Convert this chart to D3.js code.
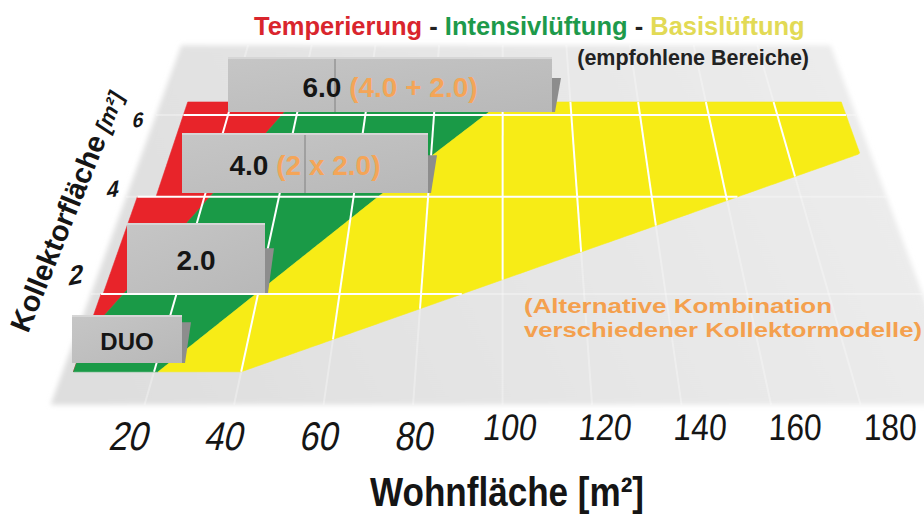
<!DOCTYPE html>
<html lang="de">
<head>
<meta charset="utf-8">
<script src="https://cdnjs.cloudflare.com/ajax/libs/d3/7.8.5/d3.min.js"></script>
<style>
  html, body { margin: 0; padding: 0; background: #fff; }
  svg { display: block; font-family: "Liberation Sans", Arial, sans-serif; }
</style>
</head>
<body>
<svg id="chart" width="924" height="517"></svg>
<script>
// Kollektorfläche bands (m²), bottom -> top
const rowLabels = ["DUO", "2.0", "4.0", "6.0"];
const rowNotes = ["", "", "(2 x 2.0)", "(4.0 + 2.0)"];
const rowFrom = [0.63, 2, 4, 6];
const rowTo = [2, 4, 6, 6.35];
const rowStartW = [1.5, 2, 7, 7];     // Wohnfläche where each band starts
const rowEndW = [200, 200, 200, 200];

// upper limits of each range (Wohnfläche m²) read at Kollektorfläche 2 / 4 / 6 m²
const limitY = [2, 4, 6];
const temperierungMax = [7, 21.5, 35.7];
const intensivMax = [39.5, 66.6, 94.9];
const basisY = [2, 4];
const basisMax = [90, 163];

const xTicks = [20, 40, 60, 80, 100, 120, 140, 160, 180];
const yTicks = [2, 4, 6];

const colors = { red: "#e8242a", green: "#1a9a47", yellow: "#f7ec16" };

const svg = d3.select("#chart");
const defs = svg.append("defs");

// ---- perspective floor ----
const H = -840;   // horizon
const VX = 503;   // vanishing x
const xRef = d3.scaleLinear().domain([20, 200]).range([228, 846]); // widths at Y = 6
const depth = d3.scaleLinear().domain([2, 6]).range([1 / (294 - H), 1 / (115 - H)]);
const yOf = v => H + 1 / depth(v);
const yRef = yOf(6);
const xAt = (w, y) => VX + (xRef(w) - VX) * (y - H) / (yRef - H);
const P = (w, v) => { const y = yOf(v); return [xAt(w, y), y]; };
const line = d3.line();

const tempScale = d3.scaleLinear().domain(limitY).range(temperierungMax);
const intScale = d3.scaleLinear().domain(limitY).range(intensivMax);
const basisScale = d3.scaleLinear().domain(basisY).range(basisMax);

// floor
const grad = defs.append("linearGradient").attr("id", "floorGrad")
  .attr("gradientUnits", "userSpaceOnUse")
  .attr("x1", 100).attr("y1", 400).attr("x2", 850).attr("y2", 50);
grad.append("stop").attr("offset", 0).attr("stop-color", "#dedede");
grad.append("stop").attr("offset", 1).attr("stop-color", "#ececec");
defs.append("filter").attr("id", "soft").attr("x", -0.05).attr("y", -0.05).attr("width", 1.1).attr("height", 1.1)
  .append("feGaussianBlur").attr("stdDeviation", 2.5);

const floorW = [-1, 203], floorY = [0.1, 8];
svg.append("path")
  .attr("d", line([P(floorW[0], floorY[0]), P(floorW[1], floorY[0]), P(floorW[1], floorY[1]), P(floorW[0], floorY[1])]) + "Z")
  .attr("fill", "url(#floorGrad)").attr("filter", "url(#soft)");

// faint floor grid
const gFloor = svg.append("g").attr("stroke", "#fff").attr("stroke-opacity", 0.3).attr("stroke-width", 2);
xTicks.forEach(w => gFloor.append("path").attr("d", line([P(w, floorY[0]), P(w, floorY[1])])));
yTicks.forEach(v => gFloor.append("path").attr("d", line([P(floorW[0], v), P(floorW[1], v)])));

// ---- coloured ranges per band ----
function bandPath(lo, hi, v0, v1) {
  const n = 60;
  const vs = d3.range(n + 1).map(i => v0 + (v1 - v0) * i / n);
  const up = vs.map(v => P(hi(v), v));
  const down = vs.slice().reverse().map(v => P(lo(v), v));
  return line(up.concat(down)) + "Z";
}

const gBands = svg.append("g");
rowLabels.forEach((lab, i) => {
  const s = rowStartW[i], e = rowEndW[i];
  const clampW = w => Math.max(s, Math.min(e, w));
  const b0 = () => s;
  const b1 = v => clampW(tempScale(v));
  const b2 = v => clampW(intScale(v));
  const b3 = v => clampW(basisScale(v));
  [[b0, b1, colors.red], [b1, b2, colors.green], [b2, b3, colors.yellow]].forEach(([lo, hi, c]) => {
    gBands.append("path").attr("d", bandPath(lo, hi, rowFrom[i], rowTo[i]))
      .attr("fill", c).attr("stroke", c).attr("stroke-width", 0.6);
  });
});

// white grid on the coloured area
const gGrid = svg.append("g").attr("stroke", "#fff").attr("stroke-width", 2).attr("fill", "none");
rowLabels.forEach((lab, i) => {
  xTicks.forEach(w => {
    if (w < rowStartW[i]) return;
    const vStart = Math.max(rowFrom[i], basisScale.invert(w));
    if (vStart >= rowTo[i]) return;
    gGrid.append("path").attr("d", line([P(w, vStart), P(w, rowTo[i])]));
  });
});
yTicks.forEach(v => {
  const i = rowFrom.indexOf(v);
  const left = Math.min(rowStartW[i], rowStartW[i - 1] ?? rowStartW[i]);
  gGrid.append("path").attr("d", line([P(left, v), P(Math.min(200, basisScale(v)), v)]));
});

// ---- label boxes (pixel layout) ----
const boxLayout = [
  { x: 72, y: 315, w: 110, h: 48, fs: 24, div: null, flap: 0.15 },
  { x: 127, y: 223, w: 138, h: 70, fs: 28, div: null, flap: 0.36 },
  { x: 182, y: 133, w: 246, h: 60, fs: 28, div: 123, flap: 0.37 },
  { x: 228, y: 57, w: 324, h: 55, fs: 28, div: 107, flap: 0.38 }
];
const boxGrad = defs.append("linearGradient").attr("id", "boxGrad").attr("x1", 0).attr("y1", 0).attr("x2", 1).attr("y2", 1);
boxGrad.append("stop").attr("offset", 0).attr("stop-color", "#c6c6c6");
boxGrad.append("stop").attr("offset", 1).attr("stop-color", "#b8b8b8");

const gBox = svg.append("g");
rowLabels.forEach((lab, i) => {
  const b = boxLayout[i];
  const g = gBox.append("g");
  g.append("path")
    .attr("d", line([[b.x + b.w, b.y + b.h * b.flap], [b.x + b.w + 9, b.y + b.h * b.flap],
      [b.x + b.w + 3, b.y + b.h], [b.x + b.w, b.y + b.h]]) + "Z")
    .attr("fill", "#8d8d8d");
  g.append("rect").attr("x", b.x).attr("y", b.y).attr("width", b.w).attr("height", b.h)
    .attr("fill", "url(#boxGrad)");
  g.append("path").attr("d", line([[b.x, b.y + 1], [b.x + b.w, b.y + 1]]))
    .attr("stroke", "#d6d6d6").attr("stroke-width", 2);
  if (b.div) {
    g.append("path").attr("d", line([[b.x + b.div, b.y + 2], [b.x + b.div, b.y + b.h]]))
      .attr("stroke", "#8a8a8a").attr("stroke-width", 1.2);
  }
  const t = g.append("text").attr("x", b.x + b.w / 2).attr("y", b.y + b.h / 2 + b.fs * 0.44)
    .attr("text-anchor", "middle").attr("font-weight", "bold").attr("font-size", b.fs);
  t.append("tspan").attr("fill", "#151515").text(lab);
  if (rowNotes[i]) t.append("tspan").attr("fill", "#f4a558").text(" " + rowNotes[i]);
});

// ---- titles ----
const title = svg.append("text").attr("x", 254).attr("y", 35)
  .attr("font-size", 25.5).attr("font-weight", "bold");
[["Temperierung", "#d9252d"], [" - ", "#222"], ["Intensivlüftung", "#1d9a4b"], [" - ", "#222"], ["Basislüftung", "#e2da55"]]
  .forEach(([s, c]) => title.append("tspan").attr("fill", c).text(s));

svg.append("text").attr("x", 809).attr("y", 65).attr("text-anchor", "end")
  .attr("font-size", 21.5).attr("font-weight", "bold").attr("fill", "#222")
  .text("(empfohlene Bereiche)");

svg.append("text").attr("x", 524).attr("y", 313).attr("font-size", 20).attr("font-weight", "bold")
  .attr("fill", "#f4a04e").attr("textLength", 308).attr("lengthAdjust", "spacingAndGlyphs")
  .text("(Alternative Kombination");
svg.append("text").attr("x", 524).attr("y", 337).attr("font-size", 20).attr("font-weight", "bold")
  .attr("fill", "#f4a04e").attr("textLength", 398).attr("lengthAdjust", "spacingAndGlyphs")
  .text("verschiedener Kollektormodelle)");

// ---- x axis ----
const gX = svg.append("g");
xTicks.forEach(v => {
  const near = v < 100;
  const y = near ? 450 : 440;
  const x = xAt(v, 487) + 6;
  const lean = Math.atan((VX - x) / (y - H)) * 180 / Math.PI;
  gX.append("text")
    .attr("transform", `translate(${x},${y}) skewX(${-(8 + 0.45 * lean)}) scale(0.86,1)`)
    .attr("text-anchor", "middle").attr("font-size", near ? 40 : 37).attr("fill", "#151515")
    .text(v);
});
svg.append("text").attr("x", 370).attr("y", 506).attr("font-size", 40).attr("font-weight", "bold")
  .attr("fill", "#151515").attr("textLength", 274).attr("lengthAdjust", "spacingAndGlyphs")
  .text("Wohnfläche [m²]");

// ---- y axis ----
const yTickX = d3.scaleLinear().domain(yTicks).range([76, 113, 138]);
const yTickY = d3.scaleLinear().domain(yTicks).range([284, 197, 127]);
const yTickSize = d3.scaleLinear().domain(yTicks).range([26, 22, 20]);
yTicks.forEach(v => {
  svg.append("text")
    .attr("transform", `translate(${yTickX(v)},${yTickY(v)}) rotate(-12) skewX(-12)`)
    .attr("text-anchor", "middle").attr("font-size", yTickSize(v))
    .attr("font-weight", "bold").attr("font-style", "italic").attr("fill", "#151515")
    .text(v);
});
const yTitle = svg.append("text").attr("transform", "translate(28,334) rotate(-68)")
  .attr("font-weight", "bold").attr("fill", "#151515");
yTitle.append("tspan").attr("font-size", 29).text("Kollektorfläche");
yTitle.append("tspan").attr("font-size", 22).attr("font-style", "italic").text(" [m²]");
</script>
</body>
</html>
